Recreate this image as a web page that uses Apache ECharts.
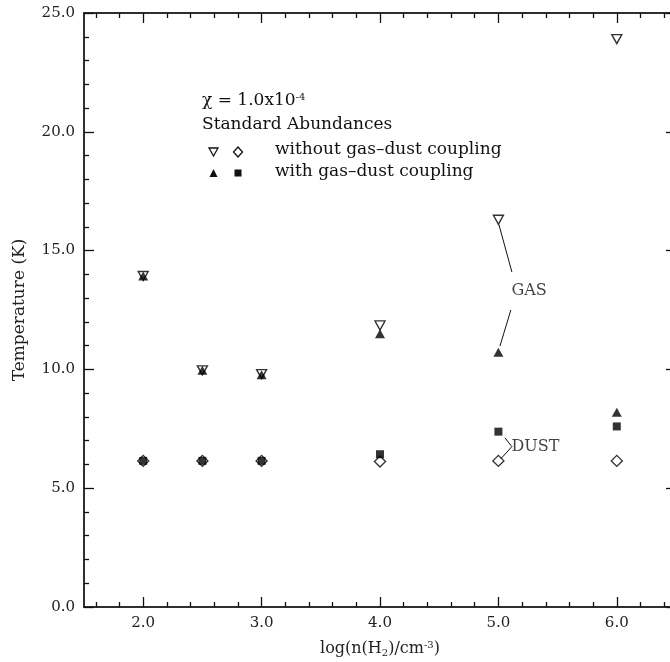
<!DOCTYPE html>
<html>
<head>
<meta charset="utf-8">
<script src="https://cdn.jsdelivr.net/npm/echarts@6/dist/echarts.min.js"></script>
<style>html,body{margin:0;padding:0;background:#fff}#c{width:670px;height:662px}</style>
</head>
<body>
<div id="c"></div>
<script>
// ---- data ----
var logDensity = [2.0, 2.5, 3.0, 4.0, 5.0, 6.0];
var gasWithout = [13.93, 9.96, 9.8, 11.85, 16.3, 23.9];
var gasWith    = [13.93, 9.96, 9.78, 11.5, 10.72, 8.2];
var dustWithout = [6.15, 6.15, 6.15, 6.12, 6.15, 6.15];
var dustWith    = [6.15, 6.15, 6.15, 6.43, 7.38, 7.6];

var xMajorTicks = [2, 3, 4, 5, 6];
var xMinorTicks = [1.6, 1.8, 2.2, 2.4, 2.6, 2.8, 3.2, 3.4, 3.6, 3.8, 4.2, 4.4, 4.6, 4.8, 5.2, 5.4, 5.6, 5.8, 6.2, 6.4];
var yMajorTicks = [0, 5, 10, 15, 20, 25];
var yMinorTicks = [1,2,3,4,6,7,8,9,11,12,13,14,16,17,18,19,21,22,23,24];

// annotation pointers (data coordinates)
var gasPointerUpper = [[5.004, 16.1], [5.114, 14.1]];
var gasPointerLower = [[5.105, 12.5], [5.013, 10.98]];
var dustPointer = [[5.055, 7.12], [5.114, 6.75], [5.021, 6.24]];
var gasLabelPos = [[5.11, 13.3]];
var dustLabelPos = [[5.11, 6.75]];

var FONT = 'DejaVu Serif';
var chart = echarts.init(document.getElementById('c'), null, {renderer: 'canvas'});

function pairs(xs, ys) { return xs.map(function (x, i) { return [x, ys[i]]; }); }

function xAxisDef(pos, ticks, len, labels, name) {
  var a = {
    type: 'value', position: pos, min: 1.5, max: 6.5,
    axisLine: {show: true, onZero: false, lineStyle: {color: '#222', width: 1.5}},
    axisTick: {show: true, inside: true, length: len, customValues: ticks, lineStyle: {color: '#111', width: 1.3}},
    axisLabel: {show: !!labels},
    splitLine: {show: false}
  };
  if (labels) {
    a.axisLabel = {show: true, customValues: ticks, margin: 9, color: '#222', fontFamily: FONT, fontSize: 15,
      formatter: function (v) { return v.toFixed(1); }};
  }
  if (name) {
    a.name = name; a.nameLocation = 'middle'; a.nameGap = 33;
    a.nameTextStyle = {color: '#222', fontFamily: FONT, fontSize: 16,
      rich: {sub: {fontFamily: FONT, fontSize: 10, verticalAlign: 'bottom', color: '#222', padding: [8, 0, 0, 0]},
             sup: {fontFamily: FONT, fontSize: 10, verticalAlign: 'top', color: '#222', padding: [0, 0, 8, 0]}}};
  }
  return a;
}
function yAxisDef(pos, ticks, len, labels, name) {
  var a = {
    type: 'value', position: pos, min: 0, max: 25,
    axisLine: {show: true, onZero: false, lineStyle: {color: '#222', width: 1.5}},
    axisTick: {show: true, inside: true, length: len, customValues: ticks, lineStyle: {color: '#111', width: 1.3}},
    axisLabel: {show: false},
    splitLine: {show: false}
  };
  if (labels) {
    a.axisLabel = {show: true, customValues: ticks, margin: 9, color: '#222', fontFamily: FONT, fontSize: 15,
      formatter: function (v) { return v.toFixed(1); }};
  }
  if (name) {
    a.name = name; a.nameLocation = 'middle'; a.nameGap = 56;
    a.nameTextStyle = {color: '#222', fontFamily: FONT, fontSize: 17};
  }
  return a;
}

var openStyle = {color: 'rgba(255,255,255,0)', borderColor: '#000', borderWidth: 1.4};
var fillStyle = {color: '#000'};

var option = {
  backgroundColor: '#fff',
  animation: false,
  grid: {left: 84, top: 13, width: 592, height: 594, containLabel: false, outerBoundsMode: 'none'},
  xAxis: [
    xAxisDef('bottom', xMajorTicks, 10, true, 'log(n(H{sub|2})/cm{sup|-3})'),
    xAxisDef('bottom', xMinorTicks, 5, false),
    xAxisDef('top', xMajorTicks, 10, false),
    xAxisDef('top', xMinorTicks, 5, false)
  ],
  yAxis: [
    yAxisDef('left', yMajorTicks, 10, true, 'Temperature (K)'),
    yAxisDef('left', yMinorTicks, 5, false),
    yAxisDef('right', yMajorTicks, 10, false),
    yAxisDef('right', yMinorTicks, 5, false)
  ],
  series: [
    {type: 'line', data: gasPointerUpper, symbol: 'none', lineStyle: {color: '#111', width: 1}, z: 1},
    {type: 'line', data: gasPointerLower, symbol: 'none', lineStyle: {color: '#111', width: 1}, z: 1},
    {type: 'line', data: dustPointer, symbol: 'none', lineStyle: {color: '#111', width: 1}, z: 1},
    {type: 'scatter', data: pairs(logDensity, dustWith), symbol: 'rect', symbolSize: 8, itemStyle: fillStyle, z: 3},
    {type: 'scatter', data: pairs(logDensity, dustWithout), symbol: 'diamond', symbolSize: 11, itemStyle: openStyle, z: 4},
    {type: 'scatter', data: pairs(logDensity, gasWith), symbol: 'triangle', symbolSize: [10, 9], itemStyle: fillStyle, z: 3},
    {type: 'scatter', data: pairs(logDensity, gasWithout), symbol: 'triangle', symbolRotate: 180, symbolSize: [10, 9], itemStyle: openStyle, z: 4},
    {type: 'scatter', data: gasLabelPos, symbolSize: 0,
      label: {show: true, position: [0, 0], align: 'left', verticalAlign: 'middle', formatter: 'GAS',
        color: '#111', fontFamily: FONT, fontSize: 16}},
    {type: 'scatter', data: dustLabelPos, symbolSize: 0,
      label: {show: true, position: [0, 0], align: 'left', verticalAlign: 'middle', formatter: 'DUST',
        color: '#111', fontFamily: FONT, fontSize: 16}}
  ],
  graphic: [
    {type: 'text', left: 202, top: 92, style: {text: '\u03c7 = 1.0x10{sup|-4}', fill: '#111', font: '17px "DejaVu Serif"',
      rich: {sup: {fontSize: 10, fontFamily: FONT, verticalAlign: 'top', fill: '#111', padding: [0, 0, 8, 0]}}}},
    {type: 'text', left: 202, top: 116, style: {text: 'Standard Abundances', fill: '#111', font: '17px "DejaVu Serif"'}},
    {type: 'text', left: 275, top: 141, style: {text: 'without gas\u2013dust coupling', fill: '#111', font: '17px "DejaVu Serif"'}},
    {type: 'text', left: 275, top: 163, style: {text: 'with gas\u2013dust coupling', fill: '#111', font: '17px "DejaVu Serif"'}},
    {type: 'polygon', shape: {points: [[209, 148], [218, 148], [213.5, 156]]}, style: {fill: 'none', stroke: '#111', lineWidth: 1.3}},
    {type: 'polygon', shape: {points: [[238, 147], [242.5, 152], [238, 157], [233.5, 152]]}, style: {fill: 'none', stroke: '#111', lineWidth: 1.3}},
    {type: 'polygon', shape: {points: [[213.5, 169], [217.5, 177], [209.5, 177]]}, style: {fill: '#111'}},
    {type: 'rect', shape: {x: 234.5, y: 169.5, width: 7, height: 7}, style: {fill: '#111'}}
  ]
};
chart.setOption(option);
</script>
</body>
</html>
